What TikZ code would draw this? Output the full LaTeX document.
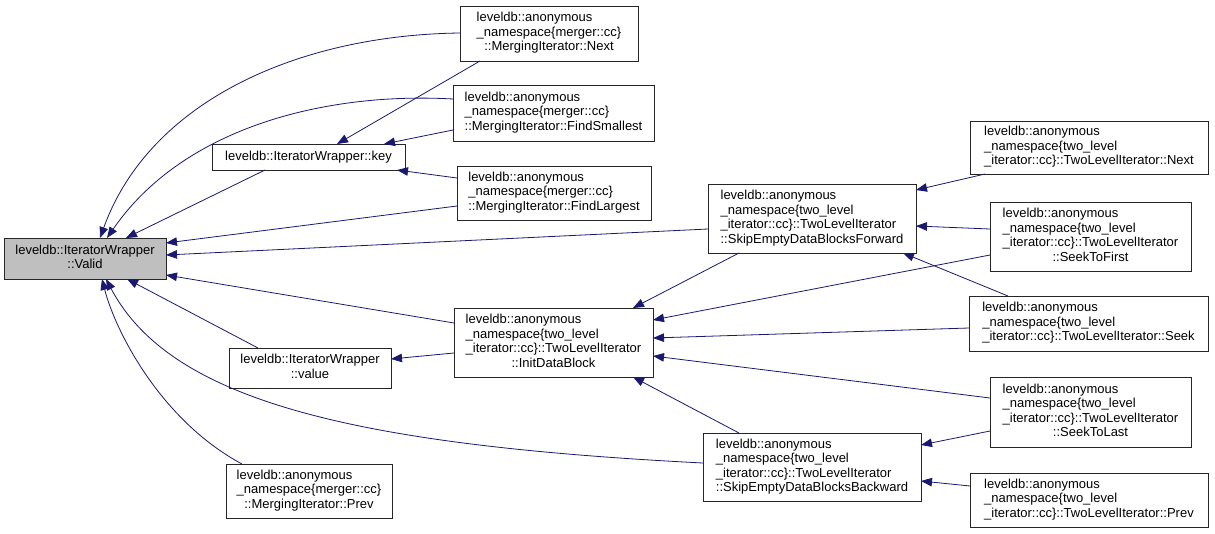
\documentclass[tikz,border=0pt]{standalone}
\usepackage{fontspec}
\setmainfont{Liberation Sans}
\usetikzlibrary{arrows.meta,calc}
\definecolor{mblue}{HTML}{191970}
\definecolor{focus}{HTML}{BFBFBF}
\newcommand\lbl[2]{\begin{tabular}{@{}l@{}}#1\\\multicolumn{1}{@{}c@{}}{#2}\end{tabular}}
\newcommand\mkbox[6][]{%
  \node[box,#1,minimum width={(#4-#2)*1pt},minimum height={(#5-#3)*1pt}] (#6) at ({(#2+#4)/2},{(#3+#5)/2})}
\tikzset{
  box/.style={draw=black!85,line width=1pt,fill=white,inner sep=0pt,outer sep=0pt,
    font=\fontsize{13}{14.5}\selectfont},
  conn/.style={draw=mblue,line width=0.8pt,-{Triangle[length=11pt,width=8.5pt]}}
}
\begin{document}
\begin{tikzpicture}[x=1pt,y=-1pt]
\fill[white] (0,0) rectangle (1215,533);
\useasboundingbox (0,0) rectangle (1215,533);

\mkbox[fill=focus]{4}{238}{166}{279}{valid} {\lbl{leveldb::IteratorWrapper}{::Valid}};
\mkbox{460}{6}{638}{61}{mnext} {\lbl{leveldb::anonymous\\\_namespace\{merger::cc\}}{::MergingIterator::Next}};
\mkbox{453}{85}{654}{141}{fsmall} {\lbl{leveldb::anonymous\\\_namespace\{merger::cc\}}{::MergingIterator::FindSmallest}};
\mkbox{212}{144}{405}{170}{key} {leveldb::IteratorWrapper::key};
\mkbox{457}{166}{651}{220}{flarge} {\lbl{leveldb::anonymous\\\_namespace\{merger::cc\}}{::MergingIterator::FindLargest}};
\mkbox{708}{184}{916}{253}{skipf} {\lbl{leveldb::anonymous\\\_namespace\{two\_level\\\_iterator::cc\}::TwoLevelIterator}{::SkipEmptyDataBlocksForward}};
\mkbox{970}{121}{1208}{174}{tlnext} {\lbl{leveldb::anonymous\\\_namespace\{two\_level}{\_iterator::cc\}::TwoLevelIterator::Next}};
\mkbox{990}{202}{1191}{271}{seekfirst} {\lbl{leveldb::anonymous\\\_namespace\{two\_level\\\_iterator::cc\}::TwoLevelIterator}{::SeekToFirst}};
\mkbox{969}{296}{1208}{351}{seek} {\lbl{leveldb::anonymous\\\_namespace\{two\_level}{\_iterator::cc\}::TwoLevelIterator::Seek}};
\mkbox{454}{308}{653}{377}{init} {\lbl{leveldb::anonymous\\\_namespace\{two\_level\\\_iterator::cc\}::TwoLevelIterator}{::InitDataBlock}};
\mkbox{229}{348}{391}{388}{value} {\lbl{leveldb::IteratorWrapper}{::value}};
\mkbox{990}{377}{1191}{447}{seeklast} {\lbl{leveldb::anonymous\\\_namespace\{two\_level\\\_iterator::cc\}::TwoLevelIterator}{::SeekToLast}};
\mkbox{703}{433}{921}{501}{skipb} {\lbl{leveldb::anonymous\\\_namespace\{two\_level\\\_iterator::cc\}::TwoLevelIterator}{::SkipEmptyDataBlocksBackward}};
\mkbox{226}{464}{392}{518}{mprev} {\lbl{leveldb::anonymous\\\_namespace\{merger::cc\}}{::MergingIterator::Prev}};
\mkbox{970}{473}{1208}{527}{tlprev} {\lbl{leveldb::anonymous\\\_namespace\{two\_level}{\_iterator::cc\}::TwoLevelIterator::Prev}};

% edges into valid
\draw[conn] ($(mnext.north west)+(0,27)$) .. controls (300,35) and (150,100) .. ($(valid.north west)+(96,0)$);
\draw[conn] ($(fsmall.north west)+(0,14)$) .. controls (330,92) and (185,125) .. ($(valid.north west)+(103,0)$);
\draw[conn] ($(key.south west)+(53,0)$) -- ($(valid.north west)+(122,0)$);
\draw[conn] ($(flarge.north west)+(0,40)$) -- ($(valid.north east)+(0,5)$);
\draw[conn] ($(skipf.north west)+(0,45)$) -- ($(valid.north east)+(0,17)$);
\draw[conn] ($(init.north west)+(0,15)$) -- ($(valid.north east)+(0,37)$);
\draw[conn] ($(value.north west)+(29,0)$) -- ($(valid.south west)+(123,0)$);
\draw[conn] ($(skipb.north west)+(0,30)$) .. controls (350,445) and (170,400) .. ($(valid.south west)+(102,0)$);
\draw[conn] ($(mprev.north west)+(16,0)$) .. controls (160,420) and (115,330) .. ($(valid.south west)+(98,0)$);
% edges into key
\draw[conn] ($(mnext.south west)+(20,0)$) -- ($(key.north west)+(125,0)$);
\draw[conn] ($(fsmall.north west)+(0,45)$) -- ($(key.north west)+(172,0)$);
\draw[conn] ($(flarge.north west)+(0,12)$) -- ($(key.south west)+(185,0)$);
% edges into skipf
\draw[conn] ($(tlnext.south west)+(15,0)$) -- ($(skipf.north east)+(0,6)$);
\draw[conn] ($(seekfirst.north west)+(0,27)$) -- ($(skipf.north east)+(0,42)$);
\draw[conn] ($(seek.north west)+(39,0)$) -- ($(skipf.south east)+(-13,0)$);
% edges into init
\draw[conn] ($(skipf.south west)+(31,0)$) -- ($(init.north west)+(179,0)$);
\draw[conn] ($(seekfirst.north west)+(0,53)$) -- ($(init.north east)+(0,12)$);
\draw[conn] ($(seek.north west)+(0,32)$) -- ($(init.north east)+(0,30)$);
\draw[conn] ($(seeklast.north west)+(0,21)$) -- ($(init.north east)+(0,48)$);
\draw[conn] ($(skipb.north west)+(36,0)$) -- ($(init.south west)+(179,0)$);
% edge into value
\draw[conn] ($(init.north west)+(0,45)$) -- ($(value.north east)+(0,11)$);
% edges into skipb
\draw[conn] ($(seeklast.north west)+(0,54)$) -- ($(skipb.north east)+(0,12)$);
\draw[conn] ($(tlprev.north west)+(0,13)$) -- ($(skipb.north east)+(0,48)$);
\end{tikzpicture}
\end{document}
